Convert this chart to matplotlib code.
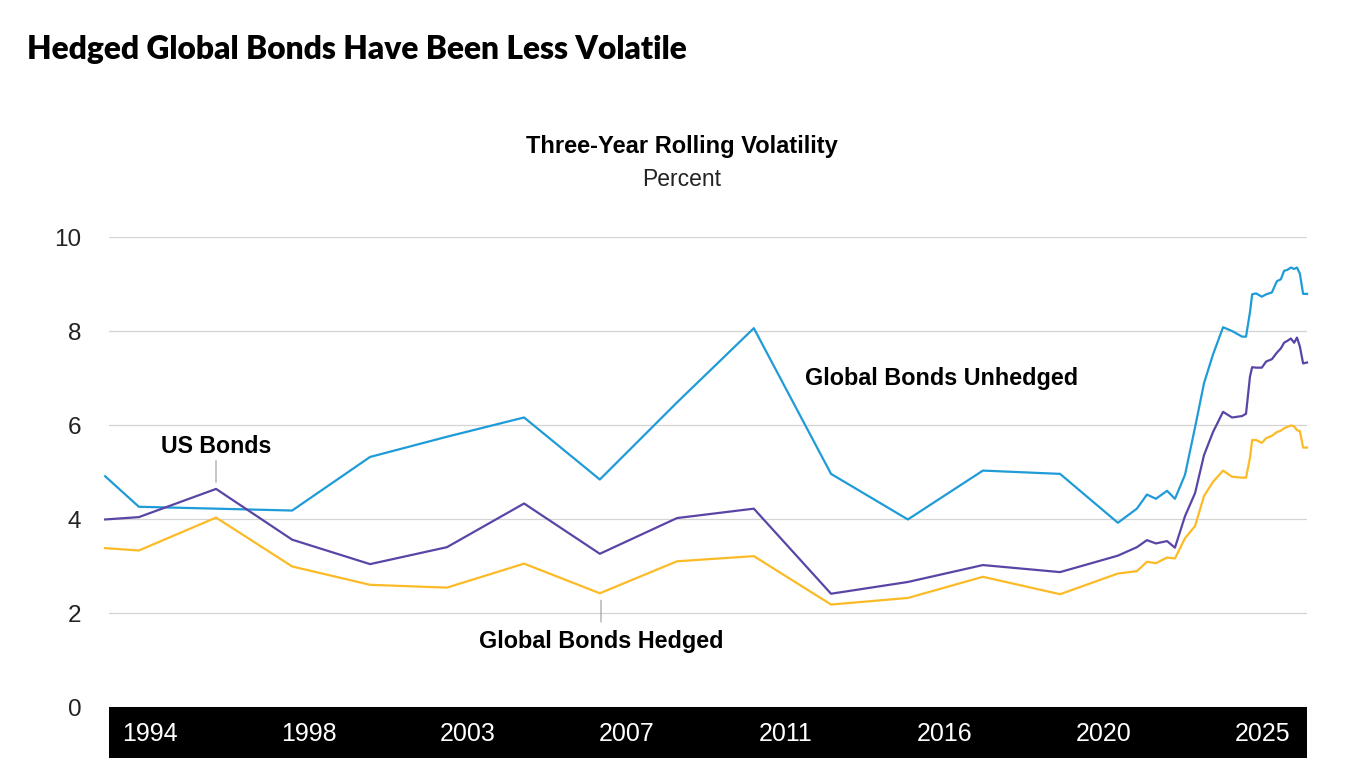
import numpy as np
import matplotlib
matplotlib.use("Agg")
import matplotlib.pyplot as plt
from matplotlib import rcParams

rcParams['font.family'] = ['Liberation Sans', 'DejaVu Sans']

# decimal dates of the observations
dates = [1992.75, 1993.69, 1995.84, 1997.96, 2000.13, 2002.27, 2004.42, 2006.53,
         2008.68, 2010.82, 2012.97, 2015.11, 2017.20, 2019.35, 2020.96, 2021.49,
         2021.77, 2022.02, 2022.33, 2022.55, 2022.83, 2023.11, 2023.36, 2023.61,
         2023.89, 2024.14, 2024.42, 2024.53, 2024.64, 2024.70, 2024.81, 2024.97,
         2025.09, 2025.25, 2025.39, 2025.50, 2025.59, 2025.68, 2025.78, 2025.87,
         2025.95, 2026.03, 2026.12, 2026.23]

unhedged = [4.91, 4.26, 4.22, 4.18, 5.32, 5.75, 6.16, 4.84, 6.48, 8.06, 4.96, 3.99,
            5.03, 4.96, 3.92, 4.22, 4.52, 4.43, 4.60, 4.43, 4.94, 5.95, 6.89, 7.50,
            8.08, 8.00, 7.88, 7.88, 8.40, 8.78, 8.80, 8.73, 8.78, 8.82, 9.06, 9.10,
            9.28, 9.30, 9.35, 9.32, 9.35, 9.22, 8.79, 8.79]

us_bonds = [3.99, 4.04, 4.64, 3.56, 3.04, 3.40, 4.33, 3.26, 4.02, 4.22, 2.41, 2.66,
            3.02, 2.87, 3.22, 3.40, 3.55, 3.48, 3.53, 3.39, 4.06, 4.55, 5.36, 5.85,
            6.28, 6.16, 6.19, 6.24, 7.03, 7.23, 7.22, 7.22, 7.35, 7.40, 7.54, 7.63,
            7.75, 7.79, 7.84, 7.75, 7.86, 7.67, 7.31, 7.33]

hedged = [3.38, 3.33, 4.03, 2.99, 2.60, 2.54, 3.05, 2.42, 3.10, 3.21, 2.18, 2.32,
          2.77, 2.40, 2.84, 2.89, 3.09, 3.06, 3.18, 3.16, 3.59, 3.85, 4.49, 4.79,
          5.03, 4.90, 4.88, 4.88, 5.30, 5.68, 5.68, 5.62, 5.72, 5.77, 5.85, 5.88,
          5.93, 5.96, 5.99, 5.97, 5.89, 5.87, 5.52, 5.52]

year_labels = ['1994', '1998', '2003', '2007', '2011', '2016', '2020', '2025']
tick_pos = np.linspace(1994, 2025, len(year_labels))
yticks = [0, 2, 4, 6, 8, 10]

blue = '#1f9bd8'
purple = '#5a45a6'
yellow = '#fcbb26'

W, H = 1351, 770
fig = plt.figure(figsize=(W / 100, H / 100), dpi=100)

def px_to_year(px):
    return 1994 + (px - 150) / 35.9

x0, x1 = 109, 1307
ax = fig.add_axes([x0 / W, (H - 707) / H, (x1 - x0) / W, (707 - 237) / H])
ax.set_xlim(px_to_year(x0), px_to_year(x1))
ax.set_ylim(0, 10)
for y in yticks:
    ax.axhline(y, color='#d4d4d4', lw=0.9, zorder=0)
ax.plot(dates, unhedged, color=blue, lw=1.6, clip_on=False, zorder=3)
ax.plot(dates, us_bonds, color=purple, lw=1.6, clip_on=False, zorder=3)
ax.plot(dates, hedged, color=yellow, lw=1.6, clip_on=False, zorder=3)

for s in ax.spines.values():
    s.set_visible(False)
ax.set_xticks([])
ax.set_yticks(yticks)
ax.set_yticklabels([str(v) for v in yticks], fontsize=17.5, color='#222222')
ax.tick_params(axis='y', length=0, pad=20)

# black date band
band = fig.add_axes([x0 / W, (H - 758) / H, (x1 - x0) / W, (758 - 707) / H])
band.set_facecolor('black')
band.set_xlim(ax.get_xlim())
band.set_ylim(0, 1)
band.set_xticks([])
band.set_yticks([])
for s in band.spines.values():
    s.set_visible(False)
for p, lab in zip(tick_pos, year_labels):
    band.text(p, 0.47, lab, color='white', fontsize=18, ha='center', va='center')

# annotations
ax.annotate('', xy=(px_to_year(216), 4.72), xytext=(px_to_year(216), 5.3),
            arrowprops=dict(arrowstyle='-', color='#999999', lw=0.8))
ax.text(px_to_year(216), 5.55, 'US Bonds', fontsize=16.7, fontweight='bold',
        ha='center', va='center')
ax.annotate('', xy=(px_to_year(601), 2.33), xytext=(px_to_year(601), 1.75),
            arrowprops=dict(arrowstyle='-', color='#999999', lw=0.8))
ax.text(px_to_year(601), 1.39, 'Global Bonds Hedged', fontsize=16.8,
        fontweight='bold', ha='center', va='center')
ax.text(px_to_year(805), 6.98, 'Global Bonds Unhedged', fontsize=16.8,
        fontweight='bold', ha='left', va='center')

fig.text(27 / W, 1 - 49 / H, 'Hedged Global Bonds Have Been Less Volatile',
         fontsize=22.9, fontweight='heavy', family=['Lato', 'Liberation Sans'],
         ha='left', va='center')
fig.text(682 / W, 1 - 147 / H, 'Three-Year Rolling Volatility', fontsize=17,
         fontweight='bold', ha='center', va='center')
fig.text(682 / W, 1 - 180 / H, 'Percent', fontsize=16.5, ha='center',
         va='center', color='#222222')

fig.savefig('out.png', dpi=100)
